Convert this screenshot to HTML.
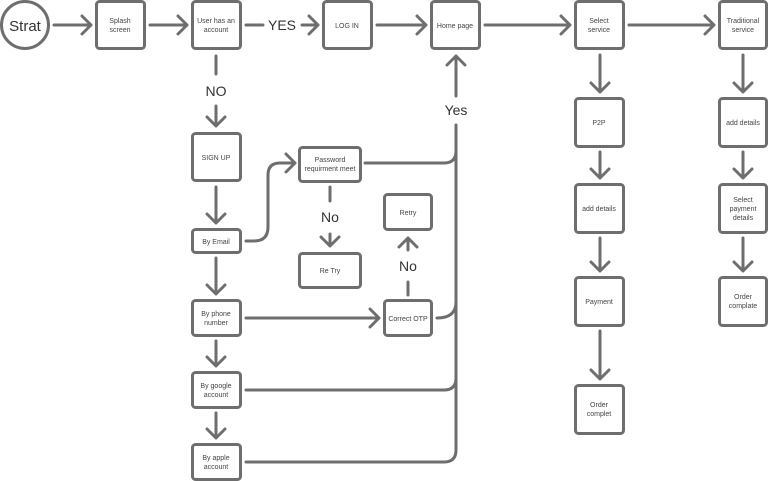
<!DOCTYPE html>
<html><head><meta charset="utf-8"><style>
html,body{margin:0;padding:0;background:#fff;}
svg{display:block;}
text{font-family:"Liberation Sans",sans-serif;fill:#444;text-anchor:middle;}
.s{font-size:7px;}
.b{font-size:14px;fill:#333;}
</style></head><body>
<svg width="768" height="481" viewBox="0 0 768 481" xmlns="http://www.w3.org/2000/svg">
<g fill="#fff" stroke="#6e6e6e" stroke-width="3">
<circle cx="25" cy="25" r="23.5"/>
<rect x="96.5" y="1.5" width="48" height="47" rx="3"/>
<rect x="192.5" y="1.5" width="48" height="47" rx="3"/>
<rect x="323.5" y="1.5" width="48" height="47" rx="3"/>
<rect x="431.5" y="1.5" width="48" height="47" rx="3"/>
<rect x="575.5" y="1.5" width="48" height="47" rx="3"/>
<rect x="719.5" y="1.5" width="47" height="47" rx="3"/>
<rect x="192.5" y="133.5" width="48" height="47" rx="3"/>
<rect x="192.5" y="229.5" width="48" height="23" rx="3"/>
<rect x="192.5" y="300.5" width="48" height="35" rx="3"/>
<rect x="192.5" y="372.5" width="48" height="35" rx="3"/>
<rect x="192.5" y="444.5" width="48" height="35" rx="3"/>
<rect x="299.5" y="147.5" width="61" height="34" rx="3"/>
<rect x="299.5" y="253.5" width="61" height="34" rx="3"/>
<rect x="384.5" y="194.5" width="47" height="35" rx="3"/>
<rect x="384.5" y="300.5" width="47" height="35" rx="3"/>
<rect x="575.5" y="98.5" width="48" height="48" rx="3"/>
<rect x="575.5" y="184.5" width="48" height="48" rx="3"/>
<rect x="575.5" y="277.5" width="48" height="48" rx="3"/>
<rect x="575.5" y="385.5" width="48" height="48" rx="3"/>
<rect x="719.5" y="98.5" width="47" height="48" rx="3"/>
<rect x="719.5" y="184.5" width="47" height="48" rx="3"/>
<rect x="719.5" y="277.5" width="47" height="48" rx="3"/>
</g>
<g fill="none" stroke="#6e6e6e" stroke-width="3" stroke-linecap="round" stroke-linejoin="round">
<!-- top row -->
<path d="M54 25H91M82 16L91 25L82 34"/>
<path d="M150 25H187M178 16L187 25L178 34"/>
<path d="M246 25H263M302 25H318M309 16L318 25L309 34"/>
<path d="M377 25H426M417 16L426 25L417 34"/>
<path d="M485 25H570M561 16L570 25L561 34"/>
<path d="M629 25H714M705 16L714 25L705 34"/>
<!-- left column -->
<path d="M216 56V74M216 106V126M207 117L216 126L225 117"/>
<path d="M216 187V223M207 214L216 223L225 214"/>
<path d="M216 258V294M207 285L216 294L225 285"/>
<path d="M216 341V366M207 357L216 366L225 357"/>
<path d="M216 413V438M207 429L216 438L225 429"/>
<!-- email to password -->
<path d="M246 241H254Q268 241 268 227V175Q268 163 280 163H295M286 154L295 163L286 172"/>
<path d="M330 187V201M330 234V246M321 237L330 246L339 237"/>
<!-- phone to OTP -->
<path d="M246 318H379M370 309L379 318L370 327"/>
<path d="M408 295V282M408 238V250M399 247L408 238L417 247"/>
<!-- trunk -->
<path d="M365 163H444Q456 163 456 151"/>
<path d="M456 125V450Q456 462 444 462H246"/>
<path d="M246 390H444Q456 390 456 378"/>
<path d="M437 318Q456 318 456 302"/>
<path d="M456 96V56M447 65L456 56L465 65"/>
<!-- right columns -->
<path d="M600 55V92M591 83L600 92L609 83"/>
<path d="M600 152V178M591 169L600 178L609 169"/>
<path d="M600 238V271M591 262L600 271L609 262"/>
<path d="M600 331V379M591 370L600 379L609 370"/>
<path d="M743 55V92M734 83L743 92L752 83"/>
<path d="M743 152V178M734 169L743 178L752 169"/>
<path d="M743 238V271M734 262L743 271L752 262"/>
</g>
<text x="25" y="31" style="font-size:15px;fill:#333">Strat</text>
<text class="s" x="120" y="23">Splash</text><text class="s" x="120" y="32">screen</text>
<text class="s" x="216" y="23">User has an</text><text class="s" x="216" y="32">account</text>
<text class="s" x="347" y="28">LOG IN</text>
<text class="s" x="455" y="28">Home page</text>
<text class="s" x="599" y="23">Select</text><text class="s" x="599" y="32">service</text>
<text class="s" x="743" y="23">Traditional</text><text class="s" x="743" y="32">service</text>
<text class="b" x="282" y="30">YES</text>
<text class="b" x="216" y="96">NO</text>
<text class="b" x="456" y="115">Yes</text>
<text class="b" x="330" y="222">No</text>
<text class="b" x="408" y="271">No</text>
<text class="s" x="216" y="160">SIGN UP</text>
<text class="s" x="216" y="244">By Email</text>
<text class="s" x="216" y="316">By phone</text><text class="s" x="216" y="325">number</text>
<text class="s" x="216" y="388">By google</text><text class="s" x="216" y="397">account</text>
<text class="s" x="216" y="460">By apple</text><text class="s" x="216" y="469">account</text>
<text class="s" x="330" y="162">Password</text><text class="s" x="330" y="171">requirment meet</text>
<text class="s" x="330" y="273">Re Try</text>
<text class="s" x="408" y="215">Retry</text>
<text class="s" x="408" y="321">Correct OTP</text>
<text class="s" x="599" y="125">P2P</text>
<text class="s" x="599" y="211">add details</text>
<text class="s" x="599" y="304">Payment</text>
<text class="s" x="599" y="407">Order</text><text class="s" x="599" y="416">complet</text>
<text class="s" x="743" y="125">add details</text>
<text class="s" x="743" y="202">Select</text><text class="s" x="743" y="211">payment</text><text class="s" x="743" y="220">details</text>
<text class="s" x="743" y="299">Order</text><text class="s" x="743" y="308">complate</text>
</svg>
</body></html>
